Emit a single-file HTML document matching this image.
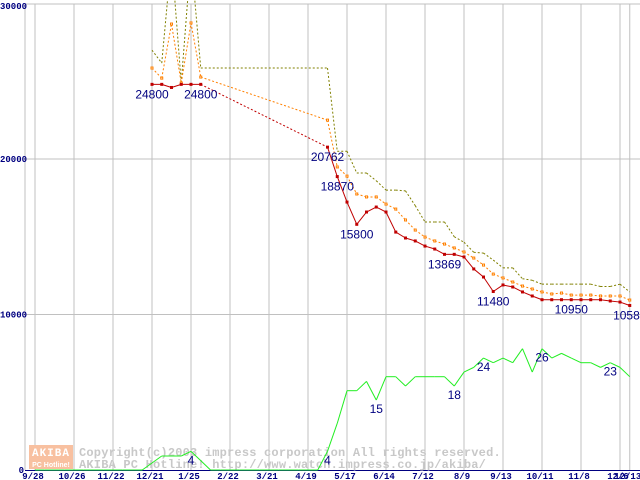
<!DOCTYPE html>
<html><head><meta charset="utf-8"><style>
body{margin:0;background:#fff;}
svg{display:block;font-family:"Liberation Sans",sans-serif;}
</style></head><body>
<svg id="chart" width="640" height="480" viewBox="0 0 640 480" xmlns="http://www.w3.org/2000/svg">
<g id="grid"></g>
<g id="wm">
 <rect x="29" y="445" width="44" height="24" fill="#f8c0a0"/>
 <text x="51" y="456" fill="#fff" font-family="Liberation Mono,monospace" font-weight="bold" font-size="11" text-anchor="middle" letter-spacing="1">AKIBA</text>
 <text x="51" y="467" fill="#fff" font-family="Liberation Sans,sans-serif" font-weight="bold" font-size="7" text-anchor="middle">PC Hotline!</text>
 <text x="79" y="456" fill="#c8c8c8" font-family="Liberation Mono,monospace" font-weight="bold" font-size="12" letter-spacing="0.2">Copyright(c)2003 impress corporation All rights reserved.</text>
 <text x="79" y="468" fill="#c8c8c8" font-family="Liberation Mono,monospace" font-weight="bold" font-size="12" letter-spacing="0.2">AKIBA PC Hotline!  http://www.watch.impress.co.jp/akiba/</text>
</g>
<g id="series"></g>
<g id="labels"></g>
</svg>
<script>
const tickLabels=["9/28","10/26","11/22","12/21","1/25","2/22","3/21","4/19","5/17","6/14","7/12","8/9","9/13","10/11","11/8","12/6","12/13"];
const tickWeeks=[0,4,8,12,16,20,24,28,32,36,40,44,48,52,56,60,61];
const yTicks=[0,10000,20000,30000];
const N=null;
const minPrice=[N,N,N,N,N,N,N,N,N,N,N,N,24800,24800,24600,24800,24800,24800,N,N,N,N,N,N,N,N,N,N,N,N,
20762,18870,17230,15800,16590,16910,16590,15300,14920,14730,14400,14210,13869,13869,13700,12930,12410,11480,11900,11770,11450,11190,10950,10950,10950,10950,10950,10950,10950,10870,10800,10580];
const avgPrice=[N,N,N,N,N,N,N,N,N,N,N,N,25850,25200,28680,24890,28750,25270,N,N,N,N,N,N,N,N,N,N,N,N,
22500,19490,18900,17750,17560,17560,17100,16780,16080,15430,14980,14730,14530,14280,14020,13630,13180,12600,12350,12090,11830,11640,11450,11320,11380,11250,11250,11250,11190,11190,11190,10930];
const maxPrice=[N,N,N,N,N,N,N,N,N,N,N,N,27000,26170,33000,24900,33000,25850,N,N,N,N,N,N,N,N,N,N,N,N,
25850,20500,20500,19100,19100,18600,18000,18000,17950,17000,15950,15950,15950,15000,14650,14000,13950,13500,13000,13000,12300,12200,11950,11950,11950,11950,11950,11950,11800,11800,11950,11450];
const shopCount=[0,0,0,0,0,0,0,0,0,0,0,0,1.5,3,3,3,4,2,0,0,0,0,0,0,0,0,0,0,0,0,
4,10,17,17,19,15,20,20,18,20,20,20,20,18,21,22,24,23,24,23,26,21,26,24,25,24,23,23,22,23,22,20];
const priceLabelWeeks=[12,17,30,31,33,42,47,55,61];
const countLabelWeeks=[16,30,35,43,46,52,59];

const NS="http://www.w3.org/2000/svg";
function x(w){return 35+9.75*w;}
function y(v){return 470-v*0.01555;}
function yc(c){return y(c*300);}
function mk(tag,attrs,parent){const e=document.createElementNS(NS,tag);for(const k in attrs)e.setAttribute(k,attrs[k]);parent.appendChild(e);return e;}
const grid=document.getElementById('grid'),ser=document.getElementById('series'),lab=document.getElementById('labels');
// frame
let fr=mk('line',{x1:25,y1:4,x2:640,y2:4,stroke:'#c0c0c0'},grid);


let la=mk('line',{x1:25,y1:4,x2:25,y2:470,stroke:'#c0c0c0'},grid);


yTicks.forEach(v=>{
 if(v>0&&v<30000){const l=mk('line',{x1:25,y1:y(v),x2:640,y2:y(v),stroke:'#c0c0c0'},grid);
 
 }
 const t=mk('text',{x:v==0?24:0,y:(v==30000?9:y(v)+3),fill:'#000080','font-size':9,'font-weight':'bold','font-family':'Liberation Mono,monospace','text-anchor':v==0?'end':'start'},grid);
 
 
 t.textContent=String(v);
});
tickWeeks.forEach((w,i)=>{
 const l=mk('line',{x1:x(w),y1:4,x2:x(w),y2:470,stroke:'#c0c0c0'},grid);
 
 
 const t=mk('text',{x:x(w)-2,y:479,fill:'#000080','font-size':9,'font-weight':'bold','font-family':'Liberation Mono,monospace','text-anchor':'middle'},grid);
 
 
 t.textContent=tickLabels[i];
});
let ba=mk('line',{x1:25,y1:470.5,x2:640,y2:470.5,stroke:'#000080'},grid);



function drawSeries(data,fy,color,solid,name,marker){
 const g=mk('g',{},ser);
 
 
 let prev=-1;
 data.forEach((v,i)=>{
  if(v===null)return;
  if(prev>=0){
   const gap=i-prev>1;
   const ln=mk('line',{x1:x(prev),y1:fy(data[prev]),x2:x(i),y2:fy(v),stroke:color,'stroke-width':1},g);
   if(!solid||gap)ln.setAttribute('stroke-dasharray','2,2');
   
   
  }
  prev=i;
 });
 if(marker){
  data.forEach((v,i)=>{
   if(v===null)return;
   const r=mk('rect',{x:x(i)-1.5,y:fy(v)-1.5,width:3,height:3},g);
   if(marker==='filled'){r.setAttribute('fill',color);}
   else{r.setAttribute('fill','#fff');r.setAttribute('stroke',color);r.setAttribute('stroke-width',1);r.setAttribute('width',2);r.setAttribute('height',2);r.setAttribute('x',x(i)-1);r.setAttribute('y',fy(v)-1);}
   
   
  });
 }
}
mk('clipPath',{id:'clip'},document.getElementById('chart'));
drawSeries(shopCount,yc,'#22ee22',true,'shop-count-line',null);
drawSeries(maxPrice,y,'#808000',false,'max-price-line',null);
drawSeries(avgPrice,y,'#ff8000',false,'avg-price-line','hollow');
drawSeries(minPrice,y,'#c00000',true,'min-price-line','filled');
function addLabel(wx,wy,txt,name){
 const t=mk('text',{x:wx,y:wy,fill:'#000080','font-size':12,'text-anchor':'middle'},lab);
 
 
 t.textContent=txt;
}
priceLabelWeeks.forEach(w=>addLabel(x(w),y(minPrice[w])+14,String(minPrice[w]),'price-label'));
countLabelWeeks.forEach(w=>addLabel(x(w)+(w==16||w==30?0:0),yc(shopCount[w])+13,String(shopCount[w]),'count-label'));
</script>
</body></html>
